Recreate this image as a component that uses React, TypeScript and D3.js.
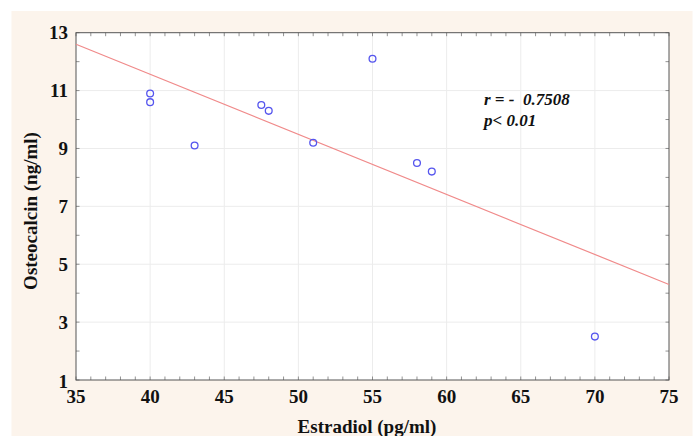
import React from 'react';
import * as d3 from 'd3';

// estradiol (pg/ml) vs osteocalcin (ng/ml)
const estradiol = [40, 40, 43, 47.5, 48, 51, 55, 58, 59, 70];
const osteocalcin = [10.9, 10.6, 9.1, 10.5, 10.3, 9.2, 12.1, 8.5, 8.2, 2.5];
// fitted line as drawn (value at x = 35 and x = 75)
const fitX = [35, 75];
const fitY = [12.6, 4.3];
const xTicks = [35, 40, 45, 50, 55, 60, 65, 70, 75];
const yTicks = [1, 3, 5, 7, 9, 11, 13];

const W = 697;
const H = 436;
const plot = {left: 76, right: 669, top: 32.7, bottom: 380};
const font = '"Liberation Serif", "Times New Roman", serif';

const App = () => {
  const x = d3.scaleLinear().domain([35, 75]).range([plot.left, plot.right]);
  const y = d3.scaleLinear().domain([1, 13]).range([plot.bottom, plot.top]);
  const xMinor = d3.range(35, 76, 1);
  const yMinor = d3.range(1, 14, 1);

  const line = d3.line<number>()
      .x((d) => x(d))
      .y((d, i) => y(fitY[i]));

  const tick = 3.5;

  return (
    <div style={{position: 'absolute', left: 0, top: 0}}>
      <svg width={W} height={H} style={{display: 'block'}}>
        <rect x={0} y={0} width={W} height={H} fill="#ffffff" />
        <rect x={11.5} y={11} width={681} height={H - 11} fill="#fcf4ec" />
        <rect x={plot.left} y={plot.top} width={plot.right - plot.left}
          height={plot.bottom - plot.top} fill="#ffffff" />

        {/* grid */}
        {xTicks.slice(1, -1).map((t) => (
          <line key={'gx' + t} x1={x(t)} x2={x(t)} y1={plot.top} y2={plot.bottom}
            stroke="#ececec" strokeWidth={1} />
        ))}
        {yTicks.slice(1, -1).map((t) => (
          <line key={'gy' + t} x1={plot.left} x2={plot.right} y1={y(t)} y2={y(t)}
            stroke="#ececec" strokeWidth={1} />
        ))}

        {/* minor / major inside ticks */}
        {xMinor.map((t) => (
          <g key={'tx' + t} stroke="#777" strokeWidth={0.8}>
            <line x1={x(t)} x2={x(t)} y1={plot.bottom} y2={plot.bottom - tick} />
            <line x1={x(t)} x2={x(t)} y1={plot.top} y2={plot.top + tick} />
          </g>
        ))}
        {yMinor.map((t) => (
          <g key={'ty' + t} stroke="#777" strokeWidth={0.8}>
            <line x1={plot.left} x2={plot.left + tick} y1={y(t)} y2={y(t)} />
            <line x1={plot.right} x2={plot.right - tick} y1={y(t)} y2={y(t)} />
          </g>
        ))}

        <rect x={plot.left} y={plot.top} width={plot.right - plot.left}
          height={plot.bottom - plot.top} fill="none" stroke="#555" strokeWidth={1} />

        {/* regression line */}
        <path d={line(fitX) || ''} fill="none" stroke="#f08a8a" strokeWidth={1.2} />

        {/* points */}
        {estradiol.map((e, i) => (
          <circle key={'p' + i} cx={x(e)} cy={y(osteocalcin[i])} r={3.4}
            fill="none" stroke="#5555ee" strokeWidth={1.3} />
        ))}

        {/* tick labels */}
        {xTicks.map((t) => (
          <text key={'lx' + t} x={x(t)} y={403} textAnchor="middle"
            fontFamily={font} fontWeight="bold" fontSize={19} fill="#111">{t}</text>
        ))}
        {yTicks.map((t) => (
          <text key={'ly' + t} x={68} y={y(t) + (t === 1 ? 8 : 6.5)} textAnchor="end"
            fontFamily={font} fontWeight="bold" fontSize={19} fill="#111">{t}</text>
        ))}

        {/* axis titles */}
        <text x={367} y={433} textAnchor="middle" fontFamily={font}
          fontWeight="bold" fontSize={19} fill="#111">Estradiol (pg/ml)</text>
        <text transform="translate(37,211) rotate(-90)" textAnchor="middle"
          fontFamily={font} fontWeight="bold" fontSize={19} fill="#111">Osteocalcin (ng/ml)</text>

        {/* annotation */}
        <text x={484} y={105} fontFamily={font} fontWeight="bold" fontStyle="italic"
          fontSize={17} fill="#111" xmlSpace="preserve">r = -  0.7508</text>
        <text x={484} y={126} fontFamily={font} fontWeight="bold" fontStyle="italic"
          fontSize={17} fill="#111">p&lt; 0.01</text>
      </svg>
    </div>
  );
};

export default App;
